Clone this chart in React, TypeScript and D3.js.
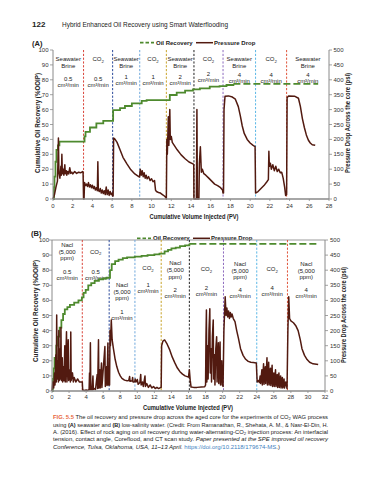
import React from "react";
import * as d3 from "d3";

type Pt = [number, number];

// ---------- shared ticks ----------
const pctTicks = [0, 10, 20, 30, 40, 50, 60, 70, 80, 90, 100];
const psiTicks = [0, 50, 100, 150, 200, 250, 300, 350, 400, 450, 500];
const pvTicksA = [0, 2, 4, 6, 8, 10, 12, 14, 16, 18, 20, 22, 24, 26, 28];
const pvTicksB = [0, 2, 4, 6, 8, 10, 12, 14, 16, 18, 20, 22, 24, 26, 28, 30, 32];

const boundaryColors = ["#d9453b", "#2b4a9b", "#6fa8dc", "#c9a42a", "#222222", "#8e6bbf", "#5bb7e6", "#e0553b"];

// ---------- (A) seawater ----------
const boundsA = [3.1, 6.05, 8.8, 11.5, 14.3, 17.25, 20.55, 23.7];
const labelsA = [
  { name: ["Seawater", "Brine"], rate: "0.5" },
  { name: ["CO₂"], rate: "0.5" },
  { name: ["Seawater", "Brine"], rate: "1" },
  { name: ["CO₂"], rate: "1" },
  { name: ["Seawater", "Brine"], rate: "2" },
  { name: ["CO₂"], rate: "2" },
  { name: ["Seawater", "Brine"], rate: "4" },
  { name: ["CO₂"], rate: "4" },
  { name: ["Seawater", "Brine"], rate: "4" },
];
const oilA: Pt[] = [
  [0, 0], [0.1, 8], [0.15, 15], [0.25, 25], [0.35, 33], [0.5, 36], [0.65, 38.5],
  [3.2, 42], [3.3, 45], [3.75, 48], [4.4, 50.8], [5.1, 52.5], [6.1, 59.7], [6.8, 61],
  [7.3, 62.4], [8.0, 64.2], [9.0, 65.8], [9.5, 66.4], [11.85, 69.8], [12.55, 71.4],
  [13.4, 72.7], [14.2, 73.6], [14.9, 74.3], [15.9, 75.4], [16.9, 75.8], [17.6, 76.5],
  [18.3, 77.2], [26.9, 77.2],
];
const pressureA: Pt[] = [
  [0, 0], [0.15, 15], [0.3, 40], [0.45, 60], [0.5, 120], [0.55, 205], [0.6, 90], [0.7, 70],
  [0.8, 110], [0.85, 80], [0.9, 150], [0.95, 85], [1.05, 100], [1.1, 80], [1.2, 115], [1.25, 85],
  [1.35, 95], [1.4, 80], [1.5, 92], [1.6, 84], [1.7, 105], [1.8, 86], [1.9, 90], [2.0, 84],
  [2.2, 92], [2.4, 86], [2.6, 90], [2.8, 88], [3.0, 92], [3.05, 90], [3.1, 0],
  [3.15, 0], [3.2, 55], [3.3, 45], [3.4, 50], [3.5, 42], [3.6, 55], [3.7, 40], [3.8, 48],
  [3.9, 38], [4.0, 46], [4.1, 35], [4.2, 42], [4.3, 30], [4.4, 38], [4.5, 28], [4.55, 125],
  [4.6, 30], [4.7, 25], [4.8, 35], [4.9, 20], [5.0, 30], [5.1, 18], [5.2, 28], [5.3, 15],
  [5.4, 40], [5.5, 15], [5.6, 30], [5.7, 12], [5.8, 25], [5.9, 15], [6.0, 20], [6.05, 10],
  [6.1, 10], [6.15, 205], [6.3, 200], [6.5, 190], [6.8, 165], [7.1, 140], [7.5, 118],
  [7.9, 98], [8.3, 84], [8.7, 75], [8.78, 74],
  [8.85, 100], [8.95, 80], [9.05, 95], [9.15, 75], [9.25, 88], [9.35, 70], [9.45, 80],
  [9.55, 68], [9.7, 75], [9.85, 62], [10.0, 68], [10.15, 58], [10.3, 62], [10.4, 30],
  [10.5, 25], [10.7, 22], [10.9, 20], [11.1, 15], [11.3, 10], [11.45, 5],
  [11.5, 0], [11.55, 200], [11.6, 150], [11.7, 276], [11.75, 180], [11.85, 300], [11.9, 200],
  [12.0, 210], [12.1, 190], [12.3, 180], [12.6, 165], [13.0, 148], [13.4, 135], [13.8, 124],
  [14.2, 118], [14.28, 115], [14.3, 0],
  [14.55, 0], [14.6, 300], [14.65, 0], [14.8, 0], [14.85, 120], [14.95, 175], [15.05, 90],
  [15.15, 100], [15.3, 85], [15.5, 80], [15.8, 70], [16.1, 60], [16.4, 50], [16.7, 45],
  [17.0, 38], [17.2, 30], [17.25, 20],
  [17.3, 20], [17.35, 300], [17.45, 345], [17.8, 346], [18.2, 342], [18.5, 335], [18.8, 310],
  [19.0, 280], [19.2, 245], [19.4, 220], [19.7, 200], [20.0, 188], [20.3, 180], [20.5, 176],
  [20.55, 20], [20.8, 25], [21.1, 35], [21.4, 45], [21.7, 58], [21.85, 65], [21.9, 160],
  [21.95, 110], [22.05, 120], [22.15, 100], [22.3, 115], [22.45, 95], [22.6, 110], [22.75, 92],
  [22.9, 100], [23.05, 88], [23.2, 90], [23.35, 70], [23.5, 40], [23.6, 12],
  [23.7, 15], [23.75, 340], [23.9, 346], [24.5, 345], [24.9, 338], [25.1, 310], [25.3, 270],
  [25.5, 240], [25.7, 215], [25.9, 198], [26.1, 188], [26.3, 182], [26.6, 180],
];

// ---------- (B) low-salinity ----------
const boundsB = [3.55, 6.7, 9.72, 12.8, 16.1, 20.1, 24.0, 27.6];
const labelsB = [
  { name: ["Nacl", "(5,000", "ppm)"], rate: "0.5" },
  { name: ["CO₂"], rate: "0.5" },
  { name: ["Nacl", "(5,000", "ppm)"], rate: "1" },
  { name: ["CO₂"], rate: "1" },
  { name: ["Nacl", "(5,000", "ppm)"], rate: "2" },
  { name: ["CO₂"], rate: "2" },
  { name: ["Nacl", "(5,000", "ppm)"], rate: "4" },
  { name: ["CO₂"], rate: "4" },
  { name: ["Nacl", "(5,000", "ppm)"], rate: "4" },
];
const oilB: Pt[] = [
  [0, 0], [0.1, 8], [0.2, 15], [0.3, 22], [0.5, 30], [0.7, 36], [0.9, 42], [1.1, 47],
  [1.3, 51], [1.5, 54], [1.8, 55.5], [2.1, 57], [2.6, 58.5], [3.1, 60], [3.5, 62], [3.7, 65],
  [3.95, 67], [4.25, 70], [4.6, 71.5], [5.0, 73], [5.5, 74], [6.0, 74.5], [6.4, 75], [6.8, 80],
  [7.0, 84], [7.4, 86], [7.8, 87], [8.3, 88], [8.8, 88.5], [9.7, 89], [10.5, 89.5], [11.2, 90],
  [12.0, 90.5], [12.6, 91], [13.2, 92.5], [13.6, 93.5], [14.0, 94.5], [14.5, 95], [15.0, 96],
  [15.6, 96.5], [16.1, 97.5], [31.2, 97.5],
];
const pressureB: Pt[] = [
  [0, 0], [0.1, 30], [0.2, 10], [0.3, 60], [0.35, 20], [0.45, 120], [0.5, 30], [0.55, 252],
  [0.6, 40], [0.7, 100], [0.75, 30], [0.8, 200], [0.85, 35], [0.95, 140], [1.0, 40], [1.05, 210],
  [1.1, 35], [1.2, 110], [1.25, 30], [1.35, 80], [1.4, 35], [1.5, 150], [1.55, 30], [1.7, 196],
  [1.75, 30], [1.9, 170], [1.95, 35], [2.1, 70], [2.15, 30], [2.2, 195], [2.25, 35], [2.4, 60],
  [2.5, 30], [2.6, 45], [2.8, 30], [3.0, 40], [3.2, 30], [3.5, 30],
  [3.55, 30], [3.6, 3], [3.8, 2], [4.0, 3], [4.2, 2], [4.35, 5], [4.4, 60], [4.45, 3],
  [4.5, 160], [4.55, 5], [4.7, 4], [4.8, 50], [4.85, 5], [5.0, 8], [5.1, 5], [5.3, 55],
  [5.35, 8], [5.45, 170], [5.5, 10], [5.6, 70], [5.65, 10], [5.8, 93], [5.85, 12], [6.2, 147],
  [6.25, 15], [6.4, 80], [6.45, 18], [6.55, 159], [6.62, 20], [6.7, 20],
  [6.75, 20], [6.8, 200], [6.85, 150], [6.95, 235], [7.05, 170], [7.2, 140], [7.4, 105],
  [7.6, 80], [7.8, 62], [8.0, 50], [8.2, 42], [8.5, 36], [8.8, 34], [9.0, 35], [9.1, 48],
  [9.15, 32], [9.4, 34], [9.45, 45], [9.5, 30], [9.6, 30], [9.7, 31],
  [9.75, 40], [9.85, 30], [10.0, 38], [10.1, 22], [10.3, 28], [10.4, 55], [10.45, 20],
  [10.6, 30], [10.7, 15], [10.9, 50], [10.95, 15], [11.1, 25], [11.3, 12], [11.5, 20],
  [11.7, 10], [11.9, 15], [12.1, 8], [12.3, 12], [12.5, 8], [12.75, 12],
  [12.8, 12], [12.85, 150], [13.0, 165], [13.2, 169], [13.5, 155], [13.8, 136], [14.1, 112],
  [14.4, 93], [14.7, 76], [15.0, 64], [15.3, 56], [15.6, 50], [16.0, 46],
  [16.1, 70], [16.2, 36], [16.3, 13], [16.6, 12], [17.0, 12], [17.5, 13], [17.9, 14],
  [18.0, 20], [18.05, 180], [18.1, 268], [18.15, 30], [18.25, 150], [18.3, 40], [18.4, 200],
  [18.5, 272], [18.55, 60], [18.65, 140], [18.7, 30], [18.8, 180], [18.9, 235], [18.95, 40],
  [19.05, 120], [19.1, 20], [19.2, 140], [19.3, 180], [19.35, 30], [19.5, 160], [19.55, 25],
  [19.7, 162], [19.75, 20], [19.9, 100], [19.95, 20], [20.05, 15],
  [20.15, 200], [20.3, 312], [20.4, 250], [20.5, 275], [20.6, 245], [20.7, 265], [20.8, 240],
  [20.9, 260], [21.0, 245], [21.1, 255], [21.25, 240], [21.45, 230], [21.65, 200], [21.85, 175],
  [22.1, 140], [22.4, 118], [22.7, 105], [23.0, 98], [23.3, 95], [23.6, 94], [23.95, 93],
  [24.05, 30], [24.2, 35], [24.3, 28], [24.4, 50], [24.45, 25], [24.6, 70], [24.65, 20],
  [24.8, 90], [24.85, 22], [25.0, 80], [25.05, 25], [25.2, 110], [25.25, 20], [25.4, 95],
  [25.45, 20], [25.6, 75], [25.65, 18], [25.8, 85], [25.85, 15], [26.0, 60], [26.05, 15],
  [26.2, 70], [26.25, 15], [26.4, 55], [26.45, 12], [26.6, 60], [26.65, 12], [26.8, 50],
  [26.85, 10], [27.0, 45], [27.05, 10], [27.2, 40], [27.25, 10], [27.4, 30], [27.55, 8],
  [27.65, 200], [27.75, 312], [27.85, 240], [28.0, 232], [28.3, 226], [28.6, 215],
  [28.85, 200], [29.1, 170], [29.3, 140], [29.6, 118], [29.9, 104], [30.2, 95], [30.6, 90],
  [31.2, 88],
];

const FONT = "Liberation Sans, Arial, sans-serif";
const OIL = "#4e8a2e";
const PRESS = "#521a10";
const AXIS = "#8a8a8a";

function Sub({ s }: { s: string }) {
  if (s.endsWith("₂")) {
    return (
      <>
        <tspan>{s.slice(0, -1)}</tspan>
        <tspan fontSize={4.3} dy={1.5}>2</tspan>
      </>
    );
  }
  return <tspan>{s}</tspan>;
}

type ChartProps = {
  left: number; right: number; top: number; bottom: number;
  xMax: number; xTicks: number[];
  oil: Pt[]; oilDashFrom: number; pressure: Pt[];
  bounds: number[];
  labels: { name: string[]; rate: string }[];
  nameY: number[]; rateY: number[];
  topBorder: boolean;
  leftLabelX: number; rightLabelX: number; xLabelY: number; xTitleY: number;
  leftTitleX: number; leftTitleY: number; leftTitleLen: number;
  rightTitleX: number; rightTitleY: number; rightTitleLen: number;
  xTitleX: number; xTitleLen: number;
};

function Chart(p: ChartProps) {
  const x = d3.scaleLinear().domain([0, p.xMax]).range([p.left, p.right]);
  const yL = d3.scaleLinear().domain([0, 100]).range([p.bottom, p.top]);
  const yR = d3.scaleLinear().domain([0, 500]).range([p.bottom, p.top]);
  const stepLine = d3.line<Pt>().x((d) => x(d[0])).y((d) => yL(d[1])).curve(d3.curveStepAfter);
  const pLine = d3.line<Pt>().x((d) => x(d[0])).y((d) => yR(d[1]));
  const solid = p.oil.filter((d) => d[0] <= p.oilDashFrom);
  const dashed = p.oil.filter((d) => d[0] >= p.oilDashFrom);
  const edges = [0, ...p.bounds, p.xMax];
  return (
    <g fontFamily={FONT}>
      {p.topBorder && <line x1={p.left} x2={p.right} y1={p.top} y2={p.top} stroke="#9a9a9a" strokeWidth={1} />}
      {p.bounds.map((b, i) => (
        <line key={i} x1={x(b)} x2={x(b)} y1={p.top} y2={p.bottom} stroke={boundaryColors[i]} strokeWidth={1} strokeDasharray="2.2,1.6" />
      ))}
      {p.labels.map((l, i) => {
        const cx = (x(edges[i]) + x(edges[i + 1])) / 2;
        return (
          <g key={i} fontSize={6} fill="#222" textAnchor="middle" dominantBaseline="central">
            {l.name.map((n, j) => (
              <text key={j} x={cx} y={p.nameY[i] + j * 6.7}><Sub s={n} /></text>
            ))}
            <text x={cx} y={p.rateY[i]}>{l.rate}</text>
            <text x={cx} y={p.rateY[i] + 6}>cm³/min</text>
          </g>
        );
      })}
      <path d={stepLine(solid) || ""} fill="none" stroke={OIL} strokeWidth={1.8} />
      <path d={stepLine(dashed) || ""} fill="none" stroke={OIL} strokeWidth={1.8} strokeDasharray="7,3" />
      <path d={pLine(p.pressure) || ""} fill="none" stroke={PRESS} strokeWidth={1.5} strokeLinejoin="round" />
      {/* axes */}
      <line x1={p.left} x2={p.left} y1={p.top} y2={p.bottom} stroke={AXIS} strokeWidth={1} />
      <line x1={p.right} x2={p.right} y1={p.top} y2={p.bottom} stroke={AXIS} strokeWidth={1} />
      <line x1={p.left} x2={p.right} y1={p.bottom} y2={p.bottom} stroke={AXIS} strokeWidth={1.6} />
      {pctTicks.map((t) => (
        <g key={"l" + t}>
          <line x1={p.left - 3} x2={p.left} y1={yL(t)} y2={yL(t)} stroke={AXIS} strokeWidth={0.8} />
          <text x={p.leftLabelX} y={yL(t)} fontSize={6} fill="#333" textAnchor="end" dominantBaseline="central">{t}</text>
        </g>
      ))}
      {psiTicks.map((t) => (
        <g key={"r" + t}>
          <line x1={p.right} x2={p.right + 3} y1={yR(t)} y2={yR(t)} stroke={AXIS} strokeWidth={0.8} />
          <text x={p.rightLabelX} y={yR(t)} fontSize={6} fill="#333" textAnchor="start" dominantBaseline="central">{t}</text>
        </g>
      ))}
      {p.xTicks.map((t) => (
        <g key={"x" + t}>
          <line x1={x(t)} x2={x(t)} y1={p.bottom} y2={p.bottom + 2} stroke={AXIS} strokeWidth={0.8} />
          <text x={x(t)} y={p.xLabelY} fontSize={6} fill="#333" textAnchor="middle" dominantBaseline="central">{t}</text>
        </g>
      ))}
      <text x={p.xTitleX} y={p.xTitleY} fontSize={6.3} fontWeight="bold" fill="#222" textAnchor="middle" dominantBaseline="central" textLength={p.xTitleLen} lengthAdjust="spacingAndGlyphs">Cumulative Volume Injected (PV)</text>
      <text transform={`translate(${p.leftTitleX},${p.leftTitleY}) rotate(-90)`} fontSize={6.3} fontWeight="bold" fill="#222" textAnchor="middle" dominantBaseline="central" textLength={p.leftTitleLen} lengthAdjust="spacingAndGlyphs">Cumulative Oil Recovery (%OOIP)</text>
      <text transform={`translate(${p.rightTitleX},${p.rightTitleY}) rotate(-90)`} fontSize={6.3} fontWeight="bold" fill="#222" textAnchor="middle" dominantBaseline="central" textLength={p.rightTitleLen} lengthAdjust="spacingAndGlyphs">Pressure Drop Across the core (psi)</text>
    </g>
  );
}

function Legend({ x, y }: { x: number; y: number }) {
  return (
    <g fontFamily={FONT} fontSize={6} fontWeight="bold" fill="#222">
      <line x1={x} x2={x + 14} y1={y} y2={y} stroke={OIL} strokeWidth={1.8} strokeDasharray="3.5,2" />
      <text x={x + 16} y={y} dominantBaseline="central">Oil Recovery</text>
      <line x1={x + 56} x2={x + 73} y1={y} y2={y} stroke={PRESS} strokeWidth={1.5} />
      <text x={x + 74} y={y} dominantBaseline="central">Pressure Drop</text>
    </g>
  );
}

export default function App() {
  return (
    <svg width={389} height={480} viewBox="0 0 389 480" style={{ position: "absolute", left: 0, top: 0, background: "#fff" }}>
      <g fontFamily={FONT} fill="#222">
        <text x={32} y={27} fontSize={8} fontWeight="bold">122</text>
        <text x={62} y={27} fontSize={7.6} textLength={166} lengthAdjust="spacingAndGlyphs">Hybrid Enhanced Oil Recovery using Smart Waterflooding</text>
        <text x={32} y={45.5} fontSize={7.5} fontWeight="bold">(A)</text>
        <text x={31} y={236} fontSize={7.5} fontWeight="bold">(B)</text>
      </g>
      <Legend x={140} y={42.7} />
      <Chart
        left={53} right={329} top={50} bottom={199} xMax={28} xTicks={pvTicksA}
        oil={oilA} oilDashFrom={18.3} pressure={pressureA} bounds={boundsA} labels={labelsA}
        nameY={[59, 59, 59, 59, 59, 59, 59, 59, 59]}
        rateY={[79, 79, 76.5, 76.5, 76.5, 73.5, 75, 75, 75]}
        topBorder={false}
        leftLabelX={48.5} rightLabelX={333.5} xLabelY={206} xTitleY={216}
        leftTitleX={37} leftTitleY={123} leftTitleLen={100}
        rightTitleX={347} rightTitleY={123} rightTitleLen={100}
        xTitleX={194} xTitleLen={89}
      />
      <Legend x={137} y={238.3} />
      <Chart
        left={52} right={325} top={240} bottom={391} xMax={32} xTicks={pvTicksB}
        oil={oilB} oilDashFrom={16.1} pressure={pressureB} bounds={boundsB} labels={labelsB}
        nameY={[245, 251.7, 285, 268.3, 263.3, 269.3, 264, 269, 264]}
        rateY={[271.7, 271.7, 311.7, 285, 290, 288.3, 290, 288, 290]}
        topBorder={true}
        leftLabelX={49} rightLabelX={330} xLabelY={396.7} xTitleY={407.7}
        leftTitleX={35} leftTitleY={311} leftTitleLen={102}
        rightTitleX={343} rightTitleY={315} rightTitleLen={96}
        xTitleX={188} xTitleLen={90}
      />
      <g fontFamily={FONT} fontSize={5.6} fill="#222">
        <text x={53} y={419.3} textLength={275} lengthAdjust="spacingAndGlyphs">
          <tspan fill="#e8663d" fontWeight="bold">FIG. 5.5</tspan>
          <tspan>{"  The oil recovery and pressure drop across the aged core for the experiments of CO"}</tspan>
          <tspan fontSize={4} dy={1}>2</tspan>
          <tspan dy={-1}>{" WAG process"}</tspan>
        </text>
        <text x={53} y={426.6} textLength={275} lengthAdjust="spacingAndGlyphs">
          <tspan>using </tspan>
          <tspan fontWeight="bold">(A)</tspan>
          <tspan> seawater and </tspan>
          <tspan fontWeight="bold">(B)</tspan>
          <tspan>{" low-salinity water. (Credit: From Ramanathan, R., Shehata, A. M., & Nasr-El-Din, H."}</tspan>
        </text>
        <text x={53} y={433.9} textLength={275} lengthAdjust="spacingAndGlyphs">
          <tspan>{"A. (2016). Effect of rock aging on oil recovery during water-alternating-CO"}</tspan>
          <tspan fontSize={4} dy={1}>2</tspan>
          <tspan dy={-1}>{" injection process: An interfacial"}</tspan>
        </text>
        <text x={53} y={441.2} textLength={275} lengthAdjust="spacingAndGlyphs">
          <tspan>{"tension, contact angle, Coreflood, and CT scan study. "}</tspan>
          <tspan fontStyle="italic">Paper presented at the SPE improved oil recovery</tspan>
        </text>
        <text x={53} y={448.5} textLength={227} lengthAdjust="spacingAndGlyphs">
          <tspan fontStyle="italic">{"Conference, Tulsa, Oklahoma, USA, 11–13 April."}</tspan>
          <tspan fill="#3d7fc1">{" https://doi.org/10.2118/179674-MS"}</tspan>
          <tspan>.)</tspan>
        </text>
      </g>
    </svg>
  );
}
